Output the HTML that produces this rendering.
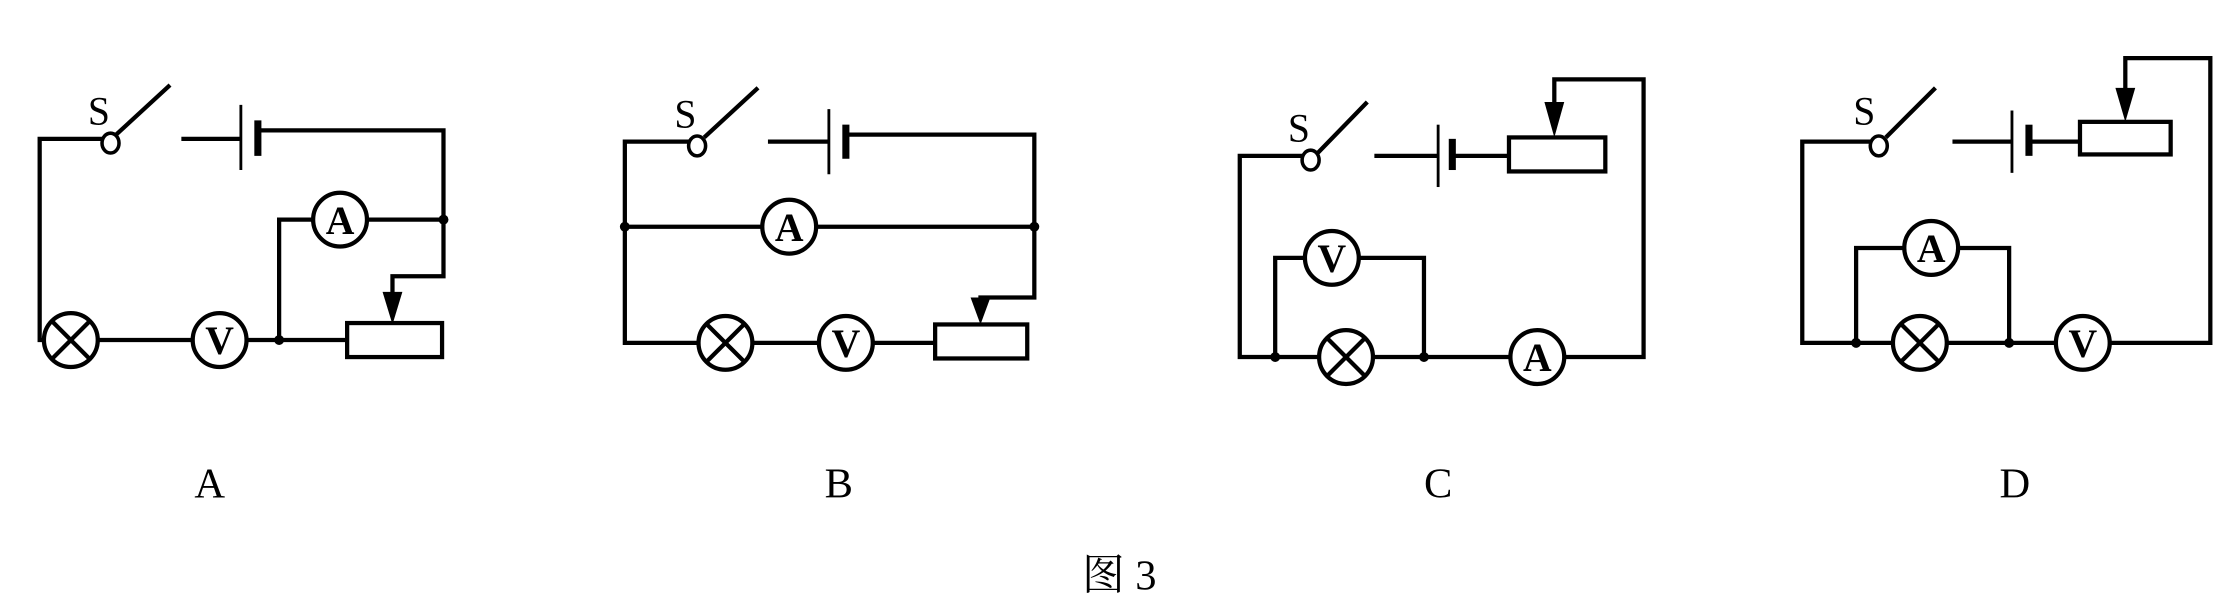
<!DOCTYPE html>
<html><head><meta charset="utf-8"><style>
html,body{margin:0;padding:0;background:#fff;}
svg{display:block;}
text{font-family:"Liberation Serif","Noto Serif CJK SC",serif;fill:#000;}
</style></head><body>
<svg width="2216" height="605" viewBox="0 0 1564 427" preserveAspectRatio="none" xmlns="http://www.w3.org/2000/svg">
<defs>
<g id="lamp"><circle r="19" fill="#fff" stroke="#000" stroke-width="3"/><line x1="-13" y1="-13" x2="13" y2="13" stroke="#000" stroke-width="3"/><line x1="13" y1="-13" x2="-13" y2="13" stroke="#000" stroke-width="3"/></g>
<g id="ma"><circle r="19" fill="#fff" stroke="#000" stroke-width="3"/><text x="0" y="10" font-size="28" font-weight="bold" text-anchor="middle">A</text></g>
<g id="mv"><circle r="19" fill="#fff" stroke="#000" stroke-width="3"/><text x="0" y="10" font-size="28" font-weight="bold" text-anchor="middle">V</text></g>
</defs>
<g fill="none" stroke="#000" stroke-width="3">
<polyline points="72,98 28,98 28,240 31,240"/>
<line x1="82" y1="95" x2="120" y2="60"/>
<line x1="128" y1="98" x2="170" y2="98"/>
<line x1="170" y1="74" x2="170" y2="120" stroke-width="2"/>
<line x1="182" y1="85" x2="182" y2="110" stroke-width="5"/>
<polyline points="182,92 313,92 313,195 277,195 277,212"/>
<polyline points="259,155 313,155"/>
<polyline points="221,155 197,155 197,240"/>
<line x1="69" y1="240" x2="136" y2="240"/>
<line x1="174" y1="240" x2="245" y2="240"/>
<rect x="245" y="228" width="67" height="24"/>
<polyline points="486,100 441,100 441,242 493,242"/>
<line x1="497" y1="97" x2="535" y2="62"/>
<line x1="542" y1="100" x2="585" y2="100"/>
<line x1="585" y1="77" x2="585" y2="123" stroke-width="2"/>
<line x1="597" y1="88" x2="597" y2="112" stroke-width="5"/>
<polyline points="597,95 730,95 730,210 692,210 692,214"/>
<line x1="441" y1="160" x2="537" y2="160"/>
<line x1="577" y1="160" x2="730" y2="160"/>
<line x1="531" y1="242" x2="578" y2="242"/>
<line x1="616" y1="242" x2="660" y2="242"/>
<rect x="660" y="229" width="65" height="24"/>
<polyline points="919,110 875,110 875,252 931,252"/>
<line x1="930" y1="108" x2="965" y2="72"/>
<line x1="970" y1="110" x2="1015" y2="110"/>
<line x1="1015" y1="88" x2="1015" y2="132" stroke-width="2"/>
<line x1="1025" y1="98" x2="1025" y2="120" stroke-width="5"/>
<line x1="1025" y1="110" x2="1065" y2="110"/>
<rect x="1065" y="97" width="68" height="24"/>
<polyline points="1097,78 1097,56 1160,56 1160,252 1104,252"/>
<line x1="969" y1="252" x2="1066" y2="252"/>
<polyline points="900,252 900,182 921,182"/>
<polyline points="959,182 1005,182 1005,252"/>
<polyline points="1320,100 1272,100 1272,242 1336,242"/>
<line x1="1331" y1="97" x2="1366" y2="62"/>
<line x1="1378" y1="100" x2="1420" y2="100"/>
<line x1="1420" y1="78" x2="1420" y2="122" stroke-width="2"/>
<line x1="1432" y1="88" x2="1432" y2="110" stroke-width="5"/>
<line x1="1432" y1="100" x2="1468" y2="100"/>
<rect x="1468" y="86" width="64" height="23"/>
<polyline points="1500,68 1500,41 1560,41 1560,242 1489,242"/>
<line x1="1374" y1="242" x2="1451" y2="242"/>
<polyline points="1310,242 1310,175 1344,175"/>
<polyline points="1382,175 1418,175 1418,242"/>
</g>
<g fill="#fff" stroke="#000" stroke-width="2.5">
<ellipse cx="78" cy="101" rx="6" ry="7"/>
<ellipse cx="492" cy="103" rx="6" ry="7"/>
<ellipse cx="925" cy="113" rx="6" ry="7"/>
<ellipse cx="1326" cy="103" rx="6" ry="7"/>
</g>
<g fill="#000">
<polygon points="270,206 284,206 277,229"/>
<polygon points="685,210 699,210 692,229"/>
<polygon points="1090,72 1104,72 1097,97"/>
<polygon points="1493,62 1507,62 1500,86"/>
<circle cx="313" cy="155" r="3.5"/><circle cx="197" cy="240" r="3.5"/>
<circle cx="441" cy="160" r="3.5"/><circle cx="730" cy="160" r="3.5"/>
<circle cx="900" cy="252" r="3.5"/><circle cx="1005" cy="252" r="3.5"/>
<circle cx="1310" cy="242" r="3.5"/><circle cx="1418" cy="242" r="3.5"/>
</g>
<use href="#lamp" x="50" y="240"/><use href="#mv" x="155" y="240"/><use href="#ma" x="240" y="155"/>
<use href="#lamp" x="512" y="242"/><use href="#mv" x="597" y="242"/><use href="#ma" x="557" y="160"/>
<use href="#lamp" x="950" y="252"/><use href="#ma" x="1085" y="252"/><use href="#mv" x="940" y="182"/>
<use href="#lamp" x="1355" y="242"/><use href="#mv" x="1470" y="242"/><use href="#ma" x="1363" y="175"/>
<g font-size="28">
<text x="62" y="88">S</text><text x="476" y="90">S</text><text x="909" y="100">S</text><text x="1308" y="88">S</text>
</g>
<g font-size="30" text-anchor="middle">
<text x="148" y="351">A</text><text x="592" y="351">B</text><text x="1015" y="351">C</text><text x="1422" y="351">D</text>
<text x="790" y="416">图 3</text>
</g>
</svg>
</body></html>
